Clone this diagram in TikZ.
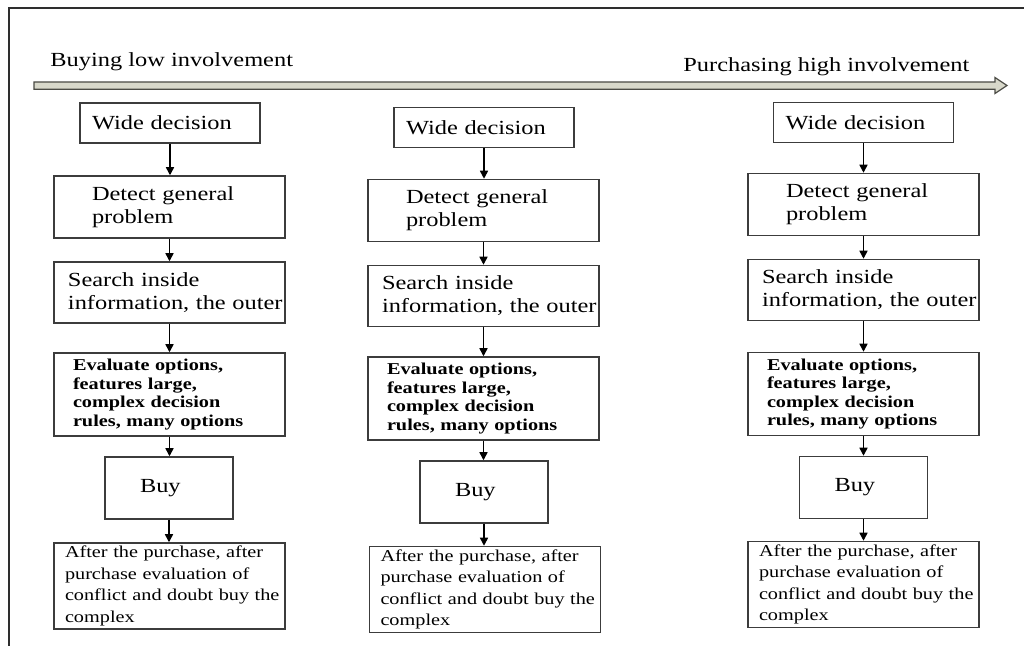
\documentclass[tikz,border=0pt]{standalone}
\usepackage{fontspec}
\setmainfont{Liberation Serif}[FakeStretch=1.22]
\usetikzlibrary{arrows.meta}
\definecolor{framegray}{HTML}{2E2E2E}
\definecolor{boxgray}{HTML}{3C3C3C}
\definecolor{barfill}{HTML}{D8D8CA}
\definecolor{baredge}{HTML}{4A4A44}
\begin{document}
\begin{tikzpicture}[x=0.5pt,y=-0.5pt,
  box/.style={draw=boxgray, line width=0.75pt, fill=white, align=left,
    inner ysep=1pt, anchor=center},
  mainfont/.style={font=\fontsize{10}{11.5}\selectfont},
  widebox/.style={box, mainfont, minimum height=20pt, text width=78pt, inner xsep=6pt},
  detectbox/.style={box, mainfont, minimum height=31pt, text width=77.5pt, inner xsep=19pt},
  searchbox/.style={box, mainfont, minimum height=30.5pt, text width=101.5pt, inner xsep=7pt},
  evalbox/.style={box, font=\fontsize{8.3}{9.3}\selectfont\bfseries,
    minimum height=41.5pt, text width=96.5pt, inner xsep=9.5pt},
  buybox/.style={box, mainfont, minimum height=31pt, text width=29pt, inner xsep=17.5pt},
  afterbox/.style={box, font=\fontsize{8.3}{10.8}\selectfont,
    minimum height=43pt, text width=104.5pt, inner xsep=5.5pt},
  toplabel/.style={mainfont, inner sep=0pt, anchor=base west},
  flow/.style={-{Triangle[length=4pt,width=4pt]}, line width=0.75pt, black},
]
\useasboundingbox (0,0) rectangle (1024,646);

% frame lines along the top and left edge
\draw[framegray, line width=0.8pt] (9,646) -- (9,8) -- (1024,8);

% involvement scale
\node[toplabel] (low) at (50,66.5) {Buying low involvement};
\node[toplabel] (high) at (683,72) {Purchasing high involvement};
\draw[fill=barfill, draw=baredge, line width=0.6pt, line join=miter]
  (34,82) -- (995,82) -- (995,77.5) -- (1007,85.5) -- (995,93.5)
  -- (995,89.3) -- (34,89.3) -- cycle;

% first column
\node[widebox]    (w1) at (170,123)   {Wide decision};
\node[detectbox]  (d1) at (169.5,207) {Detect general\\problem};
\node[searchbox]  (s1) at (169.5,292.5) {Search inside\\\mbox{information, the outer}};
\node[evalbox]    (e1) at (169.5,394.5) {Evaluate options,\\features large,\\complex decision\\rules, many options};
\node[buybox]     (b1) at (169,488)   {Buy};
\node[afterbox]   (a1) at (169.5,586) {\mbox{After the purchase, after}\\purchase evaluation of\\\mbox{conflict and doubt buy the}\\complex};

% second column
\node[widebox]    (w2) at (484,127.5)   {Wide decision};
\node[detectbox]  (d2) at (483.5,210.5) {Detect general\\problem};
\node[searchbox]  (s2) at (483.5,296)   {Search inside\\\mbox{information, the outer}};
\node[evalbox]    (e2) at (483.5,398.5) {Evaluate options,\\features large,\\complex decision\\rules, many options};
\node[buybox]     (b2) at (484,492)     {Buy};
\node[afterbox]   (a2) at (485,589.5)   {\mbox{After the purchase, after}\\purchase evaluation of\\\mbox{conflict and doubt buy the}\\complex};

% third column
\node[widebox]    (w3) at (863.5,122.5) {Wide decision};
\node[detectbox]  (d3) at (863.5,204.5) {Detect general\\problem};
\node[searchbox]  (s3) at (863.5,290)   {Search inside\\\mbox{information, the outer}};
\node[evalbox]    (e3) at (863.5,394)   {Evaluate options,\\features large,\\complex decision\\rules, many options};
\node[buybox]     (b3) at (863.5,487.5) {Buy};
\node[afterbox]   (a3) at (863.5,584.5) {\mbox{After the purchase, after}\\purchase evaluation of\\\mbox{conflict and doubt buy the}\\complex};

% flow arrows
\foreach \c in {1,2,3} {
  \draw[flow] (w\c.south) -- (w\c.south |- d\c.north);
  \draw[flow] (d\c.south) -- (d\c.south |- s\c.north);
  \draw[flow] (s\c.south) -- (s\c.south |- e\c.north);
  \draw[flow] (e\c.south) -- (e\c.south |- b\c.north);
  \draw[flow] (b\c.south) -- (b\c.south |- a\c.north);
}
\end{tikzpicture}
\end{document}
